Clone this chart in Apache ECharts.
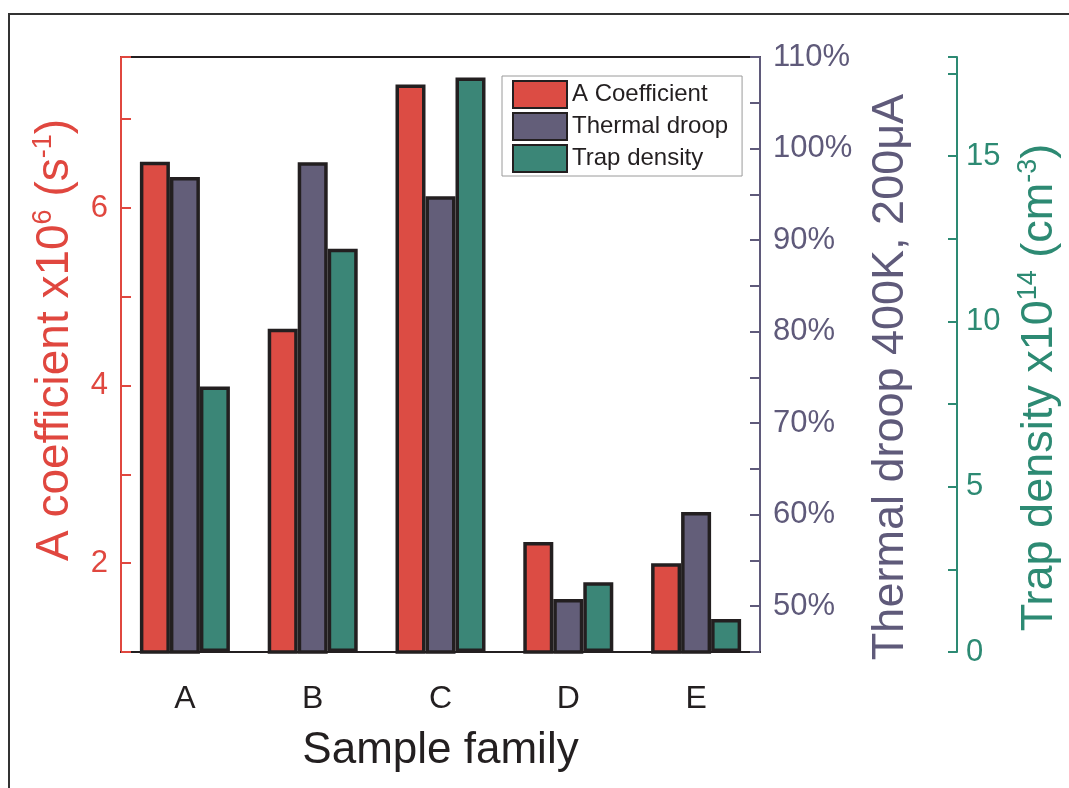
<!DOCTYPE html>
<html>
<head>
<meta charset="utf-8">
<script src="https://cdn.jsdelivr.net/npm/echarts@6/dist/echarts.min.js"></script>
<style>
    html, body {margin: 0; padding: 0; background: #fff;}
    #chart {width: 1069px; height: 788px;}
</style>
</head>
<body>
<div id="chart"></div>
<script>
const categories = ['A', 'B', 'C', 'D', 'E'];
const aCoefficient = [6.52, 4.64, 7.39, 2.24, 2.00];
const thermalDroop = [96.9, 98.5, 94.8, 50.8, 60.3];
const trapDensity = [8.03, 12.2, 17.38, 2.11, 1.0];

const aTicks = [2, 4, 6];
const droopTicks = [50, 60, 70, 80, 90, 100, 110];
const trapTicks = [0, 5, 10, 15];

const FONT = 'Liberation Sans, Arial, sans-serif';
const RED = '#e0473f';
const PURPLE = '#5f5a7a';
const GREEN = '#2d8a73';
const DARK = '#231f20';

const chart = echarts.init(document.getElementById('chart'));

// superscript style for the axis names
const supStyle = (color) => ({
    fontSize: 27, color: color, fontFamily: FONT, verticalAlign: 'top', lineHeight: 24
});

let option = {
    animation: false,
    backgroundColor: '#fff',
    graphic: [{
        type: 'rect',
        shape: {x: 9, y: 14, width: 1100, height: 800},
        style: {fill: 'none', stroke: '#333', lineWidth: 2},
        silent: true
    }],
    grid: {
        left: 121, right: 309, top: 57, bottom: 136,
        outerBoundsMode: 'none',
        show: true, borderColor: DARK, borderWidth: 2, backgroundColor: 'transparent'
    },
    legend: {
        orient: 'vertical',
        left: 502, top: 76,
        backgroundColor: '#fff',
        borderColor: '#9a9a9a',
        borderWidth: 1,
        padding: [4, 14, 3, 10],
        itemWidth: 54,
        itemHeight: 27,
        itemGap: 3,
        icon: 'rect',
        textStyle: {fontSize: 24, color: DARK, fontFamily: FONT},
        data: ['A Coefficient', 'Thermal droop', 'Trap density']
    },
    xAxis: [{
        type: 'category',
        data: categories,
        name: 'Sample family',
        nameLocation: 'middle',
        nameGap: 77,
        nameTextStyle: {fontSize: 44, color: DARK, fontFamily: FONT},
        axisLine: {lineStyle: {color: DARK, width: 2}},
        axisTick: {alignWithLabel: true, length: 11, lineStyle: {color: DARK, width: 2}},
        axisLabel: {fontSize: 32, color: DARK, fontFamily: FONT, margin: 31}
    }, {
        type: 'category',
        data: categories,
        position: 'bottom',
        axisLine: {show: false},
        axisTick: {length: 6, lineStyle: {color: DARK, width: 2}},
        axisLabel: {show: false}
    }],
    yAxis: [{
        type: 'value',
        min: 1, max: 7.7, interval: 1,
        position: 'left',
        name: 'A coefficient x10{sup|6} (s{sup|-1})',
        nameLocation: 'middle',
        nameRotate: 90,
        nameGap: 41,
        nameTextStyle: {
            fontSize: 46, color: RED, fontFamily: FONT, lineHeight: 50,
            padding: [0, 0, 0, 29],
            rich: {sup: supStyle(RED)}
        },
        splitLine: {show: false},
        axisLine: {show: true, lineStyle: {color: RED, width: 2}},
        axisTick: {show: true, inside: true, length: 10, lineStyle: {color: RED, width: 2}},
        axisLabel: {
            fontSize: 31, color: RED, fontFamily: FONT, margin: 13,
            formatter: (v) => aTicks.includes(v) ? String(v) : ''
        }
    }, {
        type: 'value',
        min: 45, max: 110, interval: 5,
        position: 'right',
        name: 'Thermal droop 400K, 200\u03bcA',
        nameLocation: 'middle',
        nameRotate: 90,
        nameGap: 108,
        nameTextStyle: {
            fontSize: 45, color: PURPLE, fontFamily: FONT,
            padding: [0, 45, 0, 0]
        },
        splitLine: {show: false},
        axisLine: {show: true, lineStyle: {color: PURPLE, width: 2}},
        axisTick: {show: true, inside: true, length: 10, lineStyle: {color: PURPLE, width: 2}},
        axisLabel: {
            fontSize: 31, color: PURPLE, fontFamily: FONT, margin: 13,
            formatter: (v) => droopTicks.includes(v) ? v + '%' : ''
        }
    }, {
        type: 'value',
        min: 0, max: 18, interval: 2.5,
        position: 'right',
        offset: 197,
        name: 'Trap density x10{sup|14} (cm{sup|-3})',
        nameLocation: 'middle',
        nameRotate: 90,
        nameGap: 58,
        nameTextStyle: {
            fontSize: 45, color: GREEN, fontFamily: FONT, lineHeight: 50,
            padding: [0, 66, 0, 0],
            rich: {sup: supStyle(GREEN)}
        },
        splitLine: {show: false},
        axisLine: {show: true, lineStyle: {color: GREEN, width: 2}},
        axisTick: {show: true, inside: true, length: 9, lineStyle: {color: GREEN, width: 2}},
        axisLabel: {
            fontSize: 31, color: GREEN, fontFamily: FONT, margin: 9,
            formatter: (v) => trapTicks.includes(v) ? String(v) : ''
        }
    }],
    series: [{
        name: 'A Coefficient',
        type: 'bar',
        yAxisIndex: 0,
        barWidth: 30,
        barGap: '0%',
        itemStyle: {color: '#dc4c44', borderColor: DARK, borderWidth: 3.5},
        data: aCoefficient
    }, {
        name: 'Thermal droop',
        type: 'bar',
        yAxisIndex: 1,
        barWidth: 30,
        barGap: '0%',
        itemStyle: {color: '#635e79', borderColor: DARK, borderWidth: 3.5},
        data: thermalDroop
    }, {
        name: 'Trap density',
        type: 'bar',
        yAxisIndex: 2,
        barWidth: 30,
        barGap: '0%',
        itemStyle: {color: '#3b8677', borderColor: DARK, borderWidth: 3.5},
        data: trapDensity
    }]
};

chart.setOption(option);
</script>
</body>
</html>
